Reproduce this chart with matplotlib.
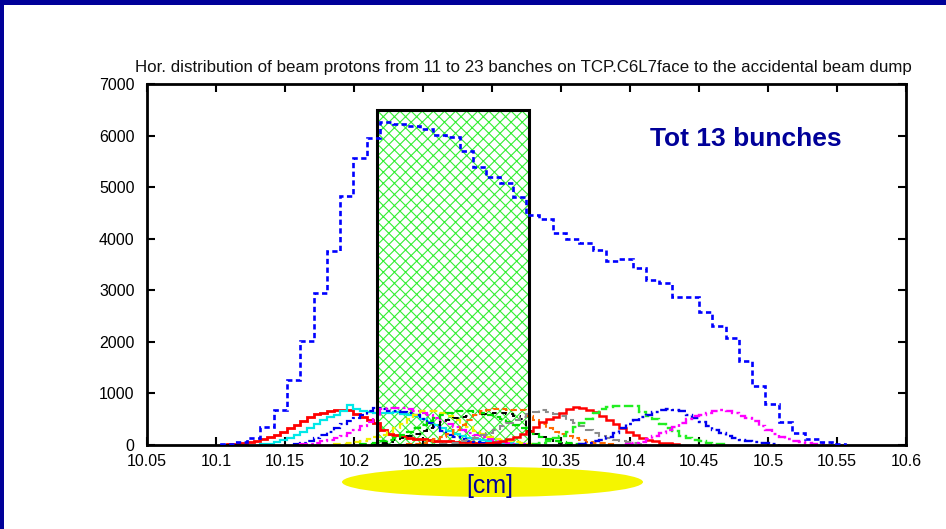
import matplotlib
matplotlib.use('Agg')
import matplotlib.pyplot as plt
import numpy as np
from matplotlib.patches import Rectangle, Ellipse

plt.rcParams['font.family'] = ['Liberation Sans', 'DejaVu Sans']
plt.rcParams['hatch.linewidth'] = 0.8

# ---------------- data ----------------
title_text = ("Hor. distribution of beam protons from 11 to 23 banches on "
              "TCP.C6L7face to the accidental beam dump")
x_ticks = [10.05, 10.1, 10.15, 10.2, 10.25, 10.3, 10.35, 10.4, 10.45, 10.5, 10.55, 10.6]
x_tick_labels = ["10.05", "10.1", "10.15", "10.2", "10.25", "10.3", "10.35",
                 "10.4", "10.45", "10.5", "10.55", "10.6"]
y_ticks = [0, 1000, 2000, 3000, 4000, 5000, 6000, 7000]

bin_x0 = 10.1033        # first bin edge [cm]
half_bin = 0.004815     # bin width of single-bunch histograms [cm]

# total of 13 bunches (bin width = 2*half_bin)
total_counts = [15, 50, 140, 340, 670, 1260, 2020, 2950, 3770, 4830, 5570, 5960,
                6258, 6225, 6186, 6128, 6020, 5980, 5701, 5397, 5191, 5074, 4815,
                4460, 4383, 4117, 3995, 3911, 3781, 3562, 3601, 3439, 3200, 3135,
                2864, 2876, 2585, 2313, 2068, 1629, 1150, 789, 452, 226, 110, 52, 13]

# jaw (TCP) region
jaw_left = 10.2165
jaw_right = 10.3265
jaw_height = 6500

# single bunches: first half-bin index and counts
b11 = [10, 15, 30, 50, 75, 110, 150, 200, 250, 320, 390, 460, 540, 600, 630, 650, 670,
       685, 680, 600, 540, 490, 420, 300, 220, 200, 170, 140, 125, 110, 95, 85, 75, 68,
       60, 55, 50, 45, 40, 32, 25, 15]
b12 = [10, 25, 50, 90, 140, 200, 260, 330, 400, 480, 540, 590, 650, 770, 690, 660, 640,
       630, 620, 630, 640, 610, 590, 560, 500, 440, 380, 320, 270, 220, 180, 145, 115,
       90, 70, 55, 40, 30, 20, 12]
b13 = [15, 40, 80, 130, 190, 260, 330, 400, 470, 530, 590, 650, 720, 690, 660, 650, 640,
       620, 580, 500, 420, 340, 270, 200, 150, 110, 80, 55, 35, 20, 10]
b14 = [10, 25, 45, 70, 100, 140, 180, 240, 300, 370, 440, 520, 690, 710, 720, 715, 690,
       660, 620, 580, 530, 470, 410, 350, 290, 240, 190, 150, 115, 85, 60, 40, 25, 12]
b15 = [10, 20, 35, 55, 80, 110, 150, 200, 260, 330, 410, 500, 590, 650, 660, 650, 620,
       560, 490, 410, 340, 270, 210, 160, 120, 95, 70, 50, 35, 20, 10]
b16 = [10, 30, 60, 90, 130, 170, 220, 270, 330, 390, 450, 490, 520, 540, 560, 580, 600,
       610, 620, 615, 600, 560, 500, 270, 220, 160, 110, 70, 40, 20, 10]
b17 = [10, 25, 45, 70, 100, 140, 190, 250, 320, 390, 460, 530, 590, 630, 650, 655, 650,
       640, 620, 590, 550, 500, 440, 380, 320, 260, 210, 160, 120, 85, 60, 40, 25, 12]
b18 = [10, 25, 45, 75, 110, 160, 220, 290, 380, 480, 580, 650, 680, 690, 690, 685, 680,
       670, 560, 480, 400, 320, 260, 220, 170, 130, 90, 65, 45, 30, 15]
b19 = [10, 25, 45, 70, 100, 140, 190, 240, 300, 360, 420, 480, 540, 610, 640, 670, 640,
       600, 560, 490, 430, 360, 290, 230, 180, 135, 105, 80, 60, 35, 15]
b20 = [15, 30, 50, 75, 110, 160, 210, 280, 340, 440, 510, 550, 620, 690, 740, 720, 680,
       640, 560, 490, 400, 330, 260, 190, 130, 95, 70, 45, 30, 15]
b21 = [10, 30, 80, 140, 180, 260, 340, 420, 500, 630, 700, 740, 755, 760, 760, 755, 640,
       560, 500, 400, 330, 270, 180, 140, 100, 70, 40, 20, 10]
b22 = [25, 45, 70, 100, 150, 240, 330, 410, 480, 540, 590, 640, 680, 700, 680, 650, 590,
       520, 440, 370, 300, 240, 180, 130, 100, 80, 65, 45, 30, 15]
b23 = [20, 35, 60, 110, 170, 230, 290, 340, 430, 510, 560, 590, 630, 660, 680, 660, 620,
       570, 520, 460, 370, 300, 220, 160, 110, 80, 55, 35, 20, 10]

bunches = [b11, b12, b13, b14, b15, b16, b17, b18, b19, b20, b21, b22, b23]
bunch_start = [1, 6, 11, 12, 17, 23, 21, 28, 33, 39, 47, 54, 61]

# ---------------- styles ----------------
dashdot = (0, (4, 1.5, 1.2, 1.5))
dashed = (0, (3.5, 1.8))
bunch_styles = [
    dict(color='#ff0000', lw=2.0, ls='-'),
    dict(color='#00e8e8', lw=1.6, ls='-'),
    dict(color='#0000ee', lw=1.6, ls=dashdot),
    dict(color='#ff00ff', lw=1.6, ls=dashdot),
    dict(color='#f0f000', lw=1.6, ls=dashed),
    dict(color='#000000', lw=1.4, ls=(0, (3, 2.5))),
    dict(color='#00dd00', lw=1.6, ls=dashed),
    dict(color='#ff6a00', lw=1.5, ls=(0, (3, 1.5))),
    dict(color='#8c8c8c', lw=1.5, ls=(0, (4, 2))),
    dict(color='#ff0000', lw=1.8, ls='-'),
    dict(color='#22ee22', lw=1.7, ls=(0, (4, 1.5))),
    dict(color='#0000ee', lw=1.7, ls=dashdot),
    dict(color='#ff00ff', lw=1.7, ls=dashdot),
]

W, H = 946, 529
fig = plt.figure(figsize=(W / 100, H / 100), dpi=100)
fig.patch.set_facecolor('white')

# dark blue slide border (top & left)
fig.add_artist(Rectangle((0, 1 - 5 / H), 1, 5 / H, transform=fig.transFigure,
                         color='#000099', lw=0, zorder=0))
fig.add_artist(Rectangle((0, 0), 4 / W, 1, transform=fig.transFigure,
                         color='#000099', lw=0, zorder=0))

ax = fig.add_axes([147 / W, 1 - 445 / H, 759 / W, 361 / H])

# jaw box (hatched)
ax.add_patch(Rectangle((jaw_left, 0), jaw_right - jaw_left, jaw_height,
                       facecolor='white', edgecolor='#33ee33', hatch='xxx',
                       lw=0, zorder=1))
ax.add_patch(Rectangle((jaw_left, 0), jaw_right - jaw_left, jaw_height,
                       fill=False, edgecolor='black', lw=2.2, zorder=3.5))

# single bunches
for vals, s, st in zip(bunches, bunch_start, bunch_styles):
    edges = bin_x0 + half_bin * (s + np.arange(len(vals) + 1))
    ax.stairs(vals, edges, color=st['color'], lw=st['lw'], linestyle=st['ls'],
              zorder=2.5)

# total
tot_edges = bin_x0 + 2 * half_bin * np.arange(len(total_counts) + 1)
ax.stairs(total_counts, tot_edges, color='#0000ff', lw=1.9,
          linestyle=(0, (2, 1.3)), zorder=4)

ax.set_xlim(10.05, 10.6)
ax.set_ylim(0, 7000)
ax.set_xticks(x_ticks)
ax.set_xticklabels(x_tick_labels)
ax.set_yticks(y_ticks)
ax.set_yticklabels([str(v) for v in y_ticks])
ax.tick_params(direction='in', length=6, width=1.5, top=True, right=True,
               labelsize=11.5, colors='black')
ax.tick_params(axis='x', pad=6.3)
ax.tick_params(axis='y', pad=9)
for sp in ax.spines.values():
    sp.set_linewidth(2)

fig.text(523.5 / W, 1 - 67.5 / H, title_text, ha='center', va='center',
         fontsize=12.2, color='#111111')

fig.text(746 / W, 1 - 138.5 / H, "Tot 13 bunches", ha='center', va='center',
         fontsize=19, fontweight='bold', color='#000099')

# yellow ellipse with unit label
fig.add_artist(Ellipse((492.5 / W, 1 - 482 / H), 301 / W, 30 / H,
                       transform=fig.transFigure, color='#f5f500', lw=0))
fig.text(490 / W, 1 - 485.5 / H, "[cm]", ha='center', va='center', fontsize=18,
         color='#000099', family=['Liberation Sans Narrow', 'Liberation Sans'])

fig.savefig('out.png', dpi=100)
